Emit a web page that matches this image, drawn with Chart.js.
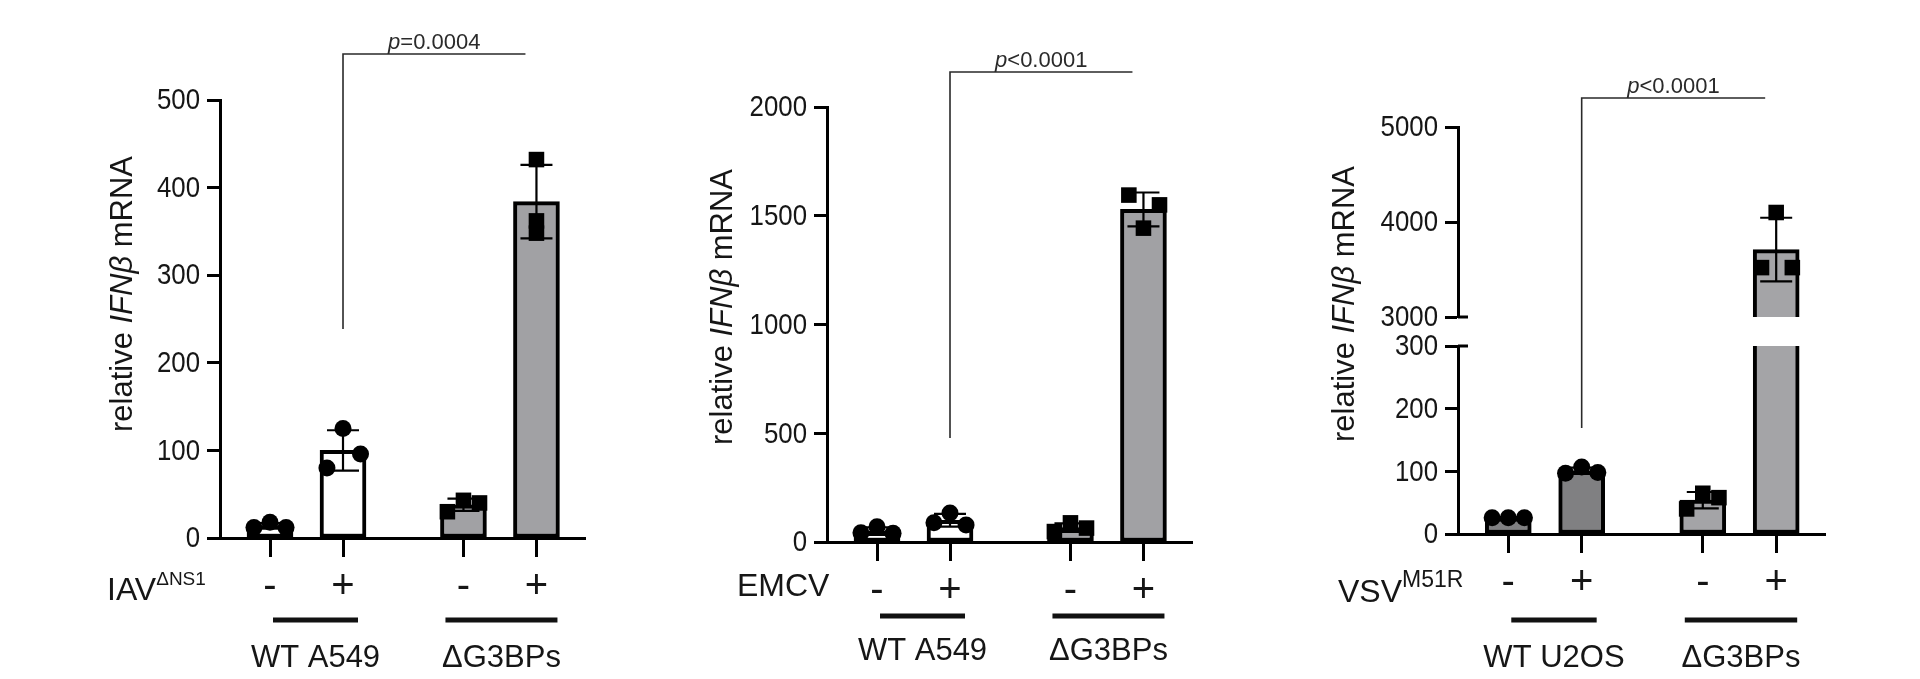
<!DOCTYPE HTML>
<html>
<head>
<script src="https://cdn.jsdelivr.net/npm/chart.js@4.4.0/dist/chart.umd.min.js"></script>
<style>
  body { margin: 0; background: #fff; }
  #wrap { position: relative; width: 1920px; height: 679px; overflow: hidden; background: #fff; }
  canvas { position: absolute; top: 0; }
</style>
</head>
<body>
<div id="wrap">
  <canvas id="iav" width="640" height="679" style="left:0px"></canvas>
  <canvas id="emcv" width="620" height="679" style="left:640px"></canvas>
  <canvas id="vsvLow" width="660" height="679" style="left:1260px"></canvas>
  <canvas id="vsvHigh" width="660" height="679" style="left:1260px"></canvas>
</div>

<script>
// x axis: virus -/+ in WT and dG3BP cells
var treatment = ['-', '+', '-', '+'];

// panel A - IAV dNS1 in A549
var iavGroups = ['WT A549', '\u0394G3BPs'];
var iavMean = [14, 100, 38, 384];
var iavSd = [3, 23, 7, 42];
var iavRep = [[12, 18, 12], [80, 125, 96], [30, 43, 40], [362, 432, 348]];
var iavTicks = [0, 100, 200, 300, 400, 500];

// panel B - EMCV in A549
var emcvGroups = ['WT A549', '\u0394G3BPs'];
var emcvMean = [50, 100, 66, 1529];
var emcvSd = [17, 29, 20, 78];
var emcvRep = [[42, 70, 40], [88, 133, 78], [48, 88, 64], [1595, 1443, 1550]];
var emcvTicks = [0, 500, 1000, 1500, 2000];

// panel C - VSV M51R in U2OS (broken y axis)
var vsvGroups = ['WT U2OS', '\u0394G3BPs'];
var vsvMean = [26, 101, 54, 3710];
var vsvSd = [1, 5, 13, 335];
var vsvRep = [[26, 26, 26], [97, 107, 98], [40, 65, 58], [3520, 4100, 3520]];
var vsvTicksLow = [0, 100, 200, 300];
var vsvTicksHigh = [3000, 4000, 5000];

// layout / style
var slotX = [1, 2, 3.65, 4.65];
var xMin = 0.315, xMax = 5.315;
var H = 679;
var sans = '"Liberation Sans", Arial, Helvetica, sans-serif';
var ink = '#161616';

function drawRuns(ctx, runs, x, y, align) {
  var w = 0;
  runs.forEach(function (r) { ctx.font = r.font; r.w = ctx.measureText(r.text).width; w += r.w; });
  var cx = align === 'center' ? x - w / 2 : x;
  runs.forEach(function (r) {
    ctx.font = r.font;
    ctx.fillText(r.text, cx, y - (r.rise || 0));
    cx += r.w;
  });
}

function makeDeco(p) {
  return {
    id: 'deco',
    afterDatasetsDraw: function (chart) {
      var ctx = chart.ctx, xs = chart.scales.x, ys = chart.scales.y, a = chart.chartArea;
      ctx.save();
      ctx.beginPath();
      ctx.rect(a.left, a.top - 2, a.right - a.left, a.bottom - a.top + 4);
      ctx.clip();
      ctx.strokeStyle = '#000';
      ctx.lineWidth = 2.2;
      p.mean.forEach(function (m, i) {
        var x = xs.getPixelForValue(slotX[i]);
        var hi = ys.getPixelForValue(m + p.sd[i]);
        var lo = ys.getPixelForValue(m - p.sd[i]);
        ctx.beginPath();
        ctx.moveTo(x, hi); ctx.lineTo(x, lo);
        ctx.moveTo(x - 16, hi); ctx.lineTo(x + 16, hi);
        ctx.moveTo(x - 16, lo); ctx.lineTo(x + 16, lo);
        ctx.stroke();
      });
      ctx.restore();
    },
    afterDraw: function (chart) {
      var ctx = chart.ctx, xs = chart.scales.x, ys = chart.scales.y, a = chart.chartArea;
      var ox = p.ox;
      ctx.save();
      ctx.fillStyle = ink;
      ctx.strokeStyle = '#000';
      ctx.textBaseline = 'alphabetic';

      // y tick numbers, slightly condensed like the original
      ctx.save();
      ctx.font = '30px ' + sans;
      ctx.textAlign = 'right';
      ctx.textBaseline = 'middle';
      p.ticks.forEach(function (v) {
        var ty = ys.getPixelForValue(v);
        ctx.save();
        ctx.translate(a.left - 20, ty + 1);
        ctx.scale(0.86, 1);
        ctx.fillText(String(v), 0, 0);
        ctx.restore();
      });
      ctx.restore();

      // broken axis stubs
      if (p.breakAt !== undefined) {
        var by = ys.getPixelForValue(p.breakAt);
        ctx.lineWidth = 3;
        ctx.beginPath();
        ctx.moveTo(a.left, by); ctx.lineTo(a.left + 10, by);
        ctx.stroke();
      }
      if (p.upper) { ctx.restore(); return; }

      // y title
      ctx.save();
      ctx.translate(p.titleX - ox, p.titleY);
      ctx.rotate(-Math.PI / 2);
      ctx.textBaseline = 'middle';
      drawRuns(ctx, [
        { text: 'relative ', font: '31px ' + sans },
        { text: 'IFN\u03b2', font: 'italic 31px ' + sans },
        { text: ' mRNA', font: '31px ' + sans }
      ], 0, 0, 'center');
      ctx.restore();

      // significance bracket
      var bx1 = xs.getPixelForValue(slotX[1]);
      var bx2 = xs.getPixelForValue(slotX[3]) - 11;
      ctx.strokeStyle = '#2a2a2a';
      ctx.lineWidth = 1.6;
      ctx.beginPath();
      ctx.moveTo(bx1, p.dropTo); ctx.lineTo(bx1, p.bracketY); ctx.lineTo(bx2, p.bracketY);
      ctx.stroke();
      ctx.fillStyle = '#2a2a2a';
      drawRuns(ctx, [
        { text: 'p', font: 'italic 22px ' + sans },
        { text: p.pText, font: '22px ' + sans }
      ], (bx1 + bx2) / 2, p.bracketY - 5, 'center');

      // virus label
      ctx.fillStyle = ink;
      drawRuns(ctx, [
        { text: p.virus, font: '32px ' + sans },
        { text: p.virusSup, font: p.supSize + 'px ' + sans, rise: 15 }
      ], p.virusX - ox, p.virusY, 'left');

      // cell line group bars and labels
      var spans = [
        [xs.getPixelForValue(slotX[0]) + 3, xs.getPixelForValue(slotX[1]) + 15],
        [xs.getPixelForValue(slotX[2]) - 18, xs.getPixelForValue(slotX[3]) + 21]
      ];
      ctx.lineWidth = 5;
      ctx.strokeStyle = '#111';
      spans.forEach(function (s, i) {
        ctx.beginPath();
        ctx.moveTo(s[0], p.lineY); ctx.lineTo(s[1], p.lineY);
        ctx.stroke();
        ctx.font = '31px ' + sans;
        ctx.textAlign = 'center';
        ctx.fillText(p.groups[i], (s[0] + s[1]) / 2, p.groupY);
        ctx.textAlign = 'left';
      });
      ctx.restore();
    }
  };
}

function buildPanel(canvasId, p) {
  var canvas = document.getElementById(canvasId);
  var W = canvas.width;
  var yMin = p.ticks[0], yMax = p.ticks[p.ticks.length - 1];
  var keep = function (v) { return (v >= yMin || !p.upper) ? v : null; };
  var bars = p.mean.map(function (v, i) { return { x: slotX[i], y: keep(v) }; });
  var wtPts = [], koPts = [];
  p.reps.forEach(function (r, i) {
    r.forEach(function (v, j) {
      var pt = { x: slotX[i] + p.jitter[i][j], y: v };
      (i < 2 ? wtPts : koPts).push(pt);
    });
  });

  return new Chart(canvas, {
    type: 'bar',
    data: {
      datasets: [
        { type: 'scatter', data: wtPts, pointStyle: 'circle', pointRadius: 8.5,
          backgroundColor: '#000', borderColor: '#000', borderWidth: 0, order: 0 },
        { type: 'scatter', data: koPts, pointStyle: 'rect', pointRadius: 11,
          backgroundColor: '#000', borderColor: '#000', borderWidth: 0, order: 0 },
        { type: 'bar', data: bars, backgroundColor: p.colors, borderColor: '#000',
          borderWidth: 4, barThickness: 46, borderSkipped: p.upper ? 'start' : false,
          clip: 0, order: 1 }
      ]
    },
    options: {
      responsive: false,
      animation: false,
      devicePixelRatio: 1,
      layout: { padding: { left: 0, top: p.top, right: W - (p.right - p.ox), bottom: 0 } },
      plugins: { legend: { display: false }, tooltip: { enabled: false } },
      scales: {
        x: {
          type: 'linear', min: xMin, max: xMax, offset: false,
          display: !p.upper,
          afterBuildTicks: function (s) { s.ticks = slotX.map(function (v) { return { value: v }; }); },
          afterFit: function (s) { s.height = H - p.bottom; },
          ticks: {
            autoSkip: false, maxRotation: 0, padding: 6, color: ink,
            font: { family: sans, size: 40 },
            callback: function (v, i) { return treatment[i]; }
          },
          grid: { offset: false, drawOnChartArea: false, drawTicks: true, tickLength: 19, tickWidth: 3, tickColor: '#000' },
          border: { display: true, width: 3, color: '#000' }
        },
        y: {
          min: yMin, max: yMax,
          afterBuildTicks: function (s) { s.ticks = p.ticks.map(function (v) { return { value: v }; }); },
          afterFit: function (s) { s.width = p.left - p.ox; },
          ticks: { display: false },
          grid: { offset: false, drawOnChartArea: false, drawTicks: true, tickLength: 13, tickWidth: 3, tickColor: '#000' },
          border: { display: true, width: 3, color: '#000' }
        }
      }
    },
    plugins: [makeDeco(p)]
  });
}

var spread = [[-0.22, 0, 0.22], [-0.22, 0, 0.24], [-0.22, 0, 0.22], [0, 0, 0]];
var spread4 = [[-0.22, 0, 0.22], [-0.22, 0, 0.22], [-0.22, 0, 0.22], [-0.2, 0, 0.22]];

buildPanel('iav', {
  ox: 0, left: 220, right: 585, top: 100, bottom: 538,
  mean: iavMean, sd: iavSd, reps: iavRep, ticks: iavTicks, jitter: spread,
  colors: ['#ffffff', '#ffffff', '#a1a1a4', '#a1a1a4'],
  groups: iavGroups, virus: 'IAV', virusSup: '\u0394NS1', supSize: 19,
  virusX: 107, virusY: 600, lineY: 620, groupY: 667,
  titleX: 123, titleY: 294, bracketY: 54, dropTo: 329, pText: '=0.0004'
});

buildPanel('emcv', {
  ox: 640, left: 827, right: 1192, top: 107, bottom: 542,
  mean: emcvMean, sd: emcvSd, reps: emcvRep, ticks: emcvTicks, jitter: spread4,
  colors: ['#ffffff', '#ffffff', '#a1a1a4', '#a1a1a4'],
  groups: emcvGroups, virus: 'EMCV', virusSup: '', supSize: 20,
  virusX: 737, virusY: 596, lineY: 616, groupY: 660,
  titleX: 723, titleY: 307, bracketY: 72, dropTo: 438, pText: '<0.0001'
});

buildPanel('vsvLow', {
  ox: 1260, left: 1458, right: 1825, top: 346, bottom: 534,
  mean: vsvMean, sd: vsvSd, reps: vsvRep, ticks: vsvTicksLow, jitter: spread4,
  colors: ['#808082', '#808082', '#a4a4a7', '#a4a4a7'], breakAt: 300,
  groups: vsvGroups, virus: 'VSV', virusSup: 'M51R', supSize: 23,
  virusX: 1338, virusY: 602, lineY: 620, groupY: 667,
  titleX: 1345, titleY: 304, bracketY: 98, dropTo: 428, pText: '<0.0001'
});

buildPanel('vsvHigh', {
  ox: 1260, left: 1458, right: 1825, top: 127, bottom: 317, upper: true,
  mean: vsvMean, sd: vsvSd, reps: vsvRep, ticks: vsvTicksHigh, jitter: spread4,
  colors: ['#808082', '#808082', '#a4a4a7', '#a4a4a7'], breakAt: 3000
});
</script>
</body>
</html>
